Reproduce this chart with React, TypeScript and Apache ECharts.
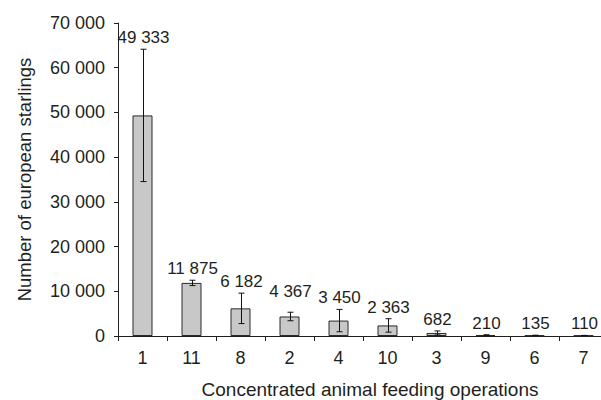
import React, { useEffect, useRef } from "react";
import * as echarts from "echarts";

const categories = ["1", "11", "8", "2", "4", "10", "3", "9", "6", "7"];
const values = [49333, 11875, 6182, 4367, 3450, 2363, 682, 210, 135, 110];
const errors = [14800, 600, 3400, 950, 2500, 1500, 450, 60, 40, 30];
const yTicks = [0, 10000, 20000, 30000, 40000, 50000, 60000, 70000];

const FONT = "'Liberation Sans', Arial, Helvetica, sans-serif";
const FS = 18;
const TEXT = "#231f20";
const labelExtraLift: Record<string, number> = { "2": 9 };

function fmt(v: number): string {
  return String(Math.round(v)).replace(/\B(?=(\d{3})+(?!\d))/g, " ");
}

export default function App() {
  const ref = useRef<HTMLDivElement>(null);
  useEffect(() => {
    if (!ref.current) return;
    const chart = echarts.init(ref.current, undefined, { renderer: "svg" });
    const errData = categories.map((c, i) => [i, values[i] - errors[i], values[i] + errors[i], values[i]]);
    chart.setOption({
      animation: false,
      backgroundColor: "#ffffff",
      grid: { left: 118, top: 23, width: 490, height: 313, containLabel: false, outerBoundsMode: "none" },
      xAxis: {
        type: "category",
        data: categories,
        name: "Concentrated animal feeding operations",
        nameLocation: "middle",
        nameGap: 44,
        nameTextStyle: { fontFamily: FONT, fontSize: 19, color: TEXT, padding: [0, 0, 0, 14] },
        axisLine: { lineStyle: { color: TEXT, width: 1 } },
        axisTick: { show: true, length: 5, alignWithLabel: false, lineStyle: { color: TEXT } },
        axisLabel: { fontFamily: FONT, fontSize: FS, color: TEXT, margin: 13 },
      },
      yAxis: {
        type: "value",
        min: yTicks[0],
        max: yTicks[yTicks.length - 1],
        interval: 10000,
        name: "Number of european starlings",
        nameLocation: "middle",
        nameGap: 84,
        nameTextStyle: { fontFamily: FONT, fontSize: 18.5, color: TEXT },
        axisLine: { show: true, lineStyle: { color: TEXT, width: 1 } },
        axisTick: { show: true, length: 4, inside: false, lineStyle: { color: TEXT } },
        splitLine: { show: false },
        axisLabel: { fontFamily: FONT, fontSize: FS, color: TEXT, margin: 13, formatter: (v: number) => fmt(v) },
      },
      series: [
        {
          type: "bar",
          data: values,
          barWidth: 20,
          itemStyle: { color: "#c8c8c8", borderColor: "#2a2a2a", borderWidth: 1 },
        },
        {
          type: "custom",
          data: errData,
          z: 10,
          renderItem: (params: any, api: any) => {
            const i = api.value(0);
            const lo = api.coord([i, api.value(1)]);
            const hi = api.coord([i, api.value(2)]);
            const v = api.value(3);
            const x = Math.round(lo[0]) + 0.5;
            const cap = 3;
            const lift = labelExtraLift[categories[i]] || 0;
            return {
              type: "group",
              children: [
                { type: "line", shape: { x1: x, y1: lo[1], x2: x, y2: hi[1] }, style: { stroke: "#111", lineWidth: 1 } },
                { type: "line", shape: { x1: x - cap, y1: hi[1], x2: x + cap, y2: hi[1] }, style: { stroke: "#111", lineWidth: 1 } },
                { type: "line", shape: { x1: x - cap, y1: lo[1], x2: x + cap, y2: lo[1] }, style: { stroke: "#111", lineWidth: 1 } },
                {
                  type: "text",
                  x: x,
                  y: hi[1] - 3 - lift,
                  style: {
                    text: fmt(v),
                    fontFamily: FONT,
                    fontSize: 17,
                    fill: TEXT,
                    align: "center",
                    verticalAlign: "bottom",
                  },
                },
              ],
            };
          },
        },
      ],
    });
    return () => chart.dispose();
  }, []);
  return <div ref={ref} style={{ position: "fixed", left: 0, top: 0, width: 601, height: 400 }} />;
}
